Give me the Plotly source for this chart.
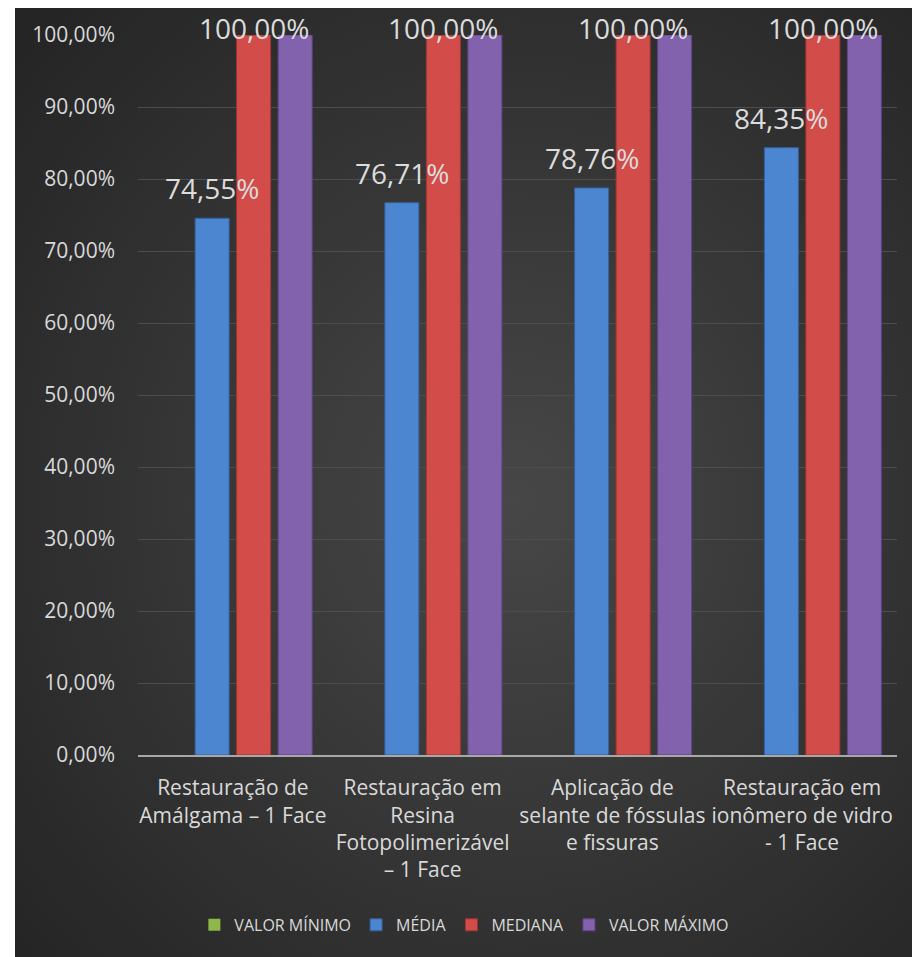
import base64
import plotly.graph_objects as go

categories = [
    "Restauração de<br>Amálgama – 1 Face",
    "Restauração em<br>Resina<br>Fotopolimerizável<br>– 1 Face",
    "Aplicação de<br>selante de fóssulas<br>e fissuras",
    "Restauração em<br>ionômero de vidro<br>- 1 Face",
]
series_names = ["VALOR MÍNIMO", "MÉDIA", "MEDIANA", "VALOR MÁXIMO"]
valor_minimo = [0.0, 0.0, 0.0, 0.0]
media = [0.7455, 0.7671, 0.7876, 0.8435]
mediana = [1.0, 1.0, 1.0, 1.0]
valor_maximo = [1.0, 1.0, 1.0, 1.0]
series_values = [valor_minimo, media, mediana, valor_maximo]
series_colors = ["#8fb84a", "#4c86d0", "#d24c49", "#8262ad"]
edge_colors = ["#8fb84a", "#355f9c", "#a23533", "#5f4585"]
edge_widths = [0, 1, 1, 1]
labelled_series = [1, 2]  # MÉDIA and MEDIANA carry data labels

# page has an 8px body margin, so the figure is sized to fit the window
W, H = 912, 949
ML, MR, MT, MB = 130, 23, 27, 202
plot_w = W - ML - MR
plot_h = H - MT - MB
BARGAP = 0.125

fig = go.Figure()
cat_idx = list(range(len(categories)))
for name, vals, col, edge, ew in zip(series_names, series_values, series_colors,
                                     edge_colors, edge_widths):
    fig.add_trace(go.Bar(
        x=cat_idx, y=vals, name=name,
        marker=dict(color=col, line=dict(color=edge, width=ew)),
        hoverinfo="skip",
    ))

# data labels (Excel style: above bar, clamped inside chart area)
n = len(series_names)
slot = (1 - BARGAP) / n
chart_top_px = 0
for si in labelled_series:
    off = (si - (n - 1) / 2) * slot
    for ci, v in enumerate(series_values[si]):
        bar_top_px = MT + (1 - v) * plot_h
        shift = min(30, bar_top_px - chart_top_px - 20)
        txt = f"{v*100:.2f}%".replace(".", ",")
        fig.add_annotation(
            x=ci + off, y=v, xref="x", yref="y", text=txt, showarrow=False,
            yanchor="middle", xanchor="center", yshift=shift,
            font=dict(family="Open Sans", size=28, color="#dcdcdc"),
        )

svg = ('<svg xmlns="http://www.w3.org/2000/svg" width="905" height="949" '
       'viewBox="0 0 905 949" preserveAspectRatio="none"><defs>'
       '<radialGradient id="g" cx="55%" cy="52%" r="72%">'
       '<stop offset="0" stop-color="#474747"/><stop offset="1" stop-color="#252525"/>'
       '</radialGradient></defs><rect width="905" height="949" fill="url(#g)"/></svg>')
src = "data:image/svg+xml;base64," + base64.b64encode(svg.encode()).decode()
bx0, by0 = 7, 0
fig.add_layout_image(
    source=src, xref="paper", yref="paper",
    x=(bx0 - ML) / plot_w, y=(H - MB - by0) / plot_h,
    sizex=(W - bx0) / plot_w, sizey=(H - by0) / plot_h,
    xanchor="left", yanchor="top", sizing="stretch", layer="below",
)

fig.update_layout(
    width=W, height=H,
    margin=dict(l=ML, r=MR, t=MT, b=MB, pad=0),
    paper_bgcolor="white", plot_bgcolor="rgba(0,0,0,0)",
    barmode="group", bargap=BARGAP, bargroupgap=0.18,
    separators=",.",
    font=dict(family="Open Sans", color="#d9d9d9"),
    showlegend=True,
    legend=dict(orientation="h", x=0.43, xanchor="center", y=-0.236, yanchor="middle",
                font=dict(size=16, color="#d9d9d9"), bgcolor="rgba(0,0,0,0)",
                traceorder="normal"),
    xaxis=dict(
        tickmode="array", tickvals=cat_idx, ticktext=categories,
        range=[-0.5, len(categories) - 0.5],
        showgrid=False, showline=True, linecolor="#a8a8a8", linewidth=2,
        ticks="", tickfont=dict(size=21, color="#d9d9d9"), zeroline=False,
        ticklabelstandoff=13,
    ),
    yaxis=dict(
        range=[0, 1], dtick=0.1, tickformat=".2%",
        showgrid=True, gridcolor="#4d4d4d", gridwidth=1,
        zeroline=False, showline=False, ticks="",
        tickfont=dict(size=21, color="#d9d9d9"), ticklabelstandoff=22,
    ),
)

fig.write_html("out.html")
